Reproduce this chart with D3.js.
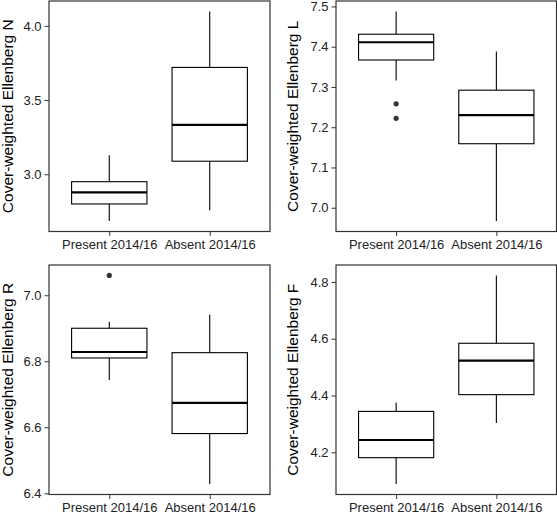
<!DOCTYPE html>
<html>
<head>
<meta charset="utf-8">
<script src="https://cdn.jsdelivr.net/npm/d3@7"></script>
<style>
  html, body { margin: 0; padding: 0; background: #fff; }
  svg { display: block; }
  text { font-family: "Liberation Sans", Arial, sans-serif; }
</style>
</head>
<body>
<svg id="chart" width="557" height="515"></svg>
<script>
// ---- data ----
const groups = ["Present 2014/16", "Absent 2014/16"];
const panelLetters = ["N", "L", "R", "F"];
// box stats per group: [lower whisker, Q1, median, Q3, upper whisker]
const statsN = [[2.685, 2.800, 2.878, 2.950, 3.128], [2.757, 3.088, 3.333, 3.720, 4.097]];
const statsL = [[7.316, 7.367, 7.411, 7.431, 7.4875], [6.967, 7.159, 7.230, 7.292, 7.388]];
const statsR = [[6.743, 6.810, 6.828, 6.900, 6.920], [6.428, 6.581, 6.674, 6.826, 6.942]];
const statsF = [[4.088, 4.181, 4.243, 4.344, 4.375], [4.303, 4.403, 4.523, 4.584, 4.823]];
// outliers per group
const outN = [[], []];
const outL = [[7.258, 7.222], []];
const outR = [[7.060], []];
const outF = [[], []];
// tick labels
const ticksN = [3.0, 3.5, 4.0];
const ticksL = [7.0, 7.1, 7.2, 7.3, 7.4, 7.5];
const ticksR = [6.4, 6.6, 6.8, 7.0];
const ticksF = [4.2, 4.4, 4.6, 4.8];

const panels = [
  { letter: panelLetters[0], stats: statsN, out: outN, ticks: ticksN, x0: 49, x1: 270, y0: 1, y1: 231.5, tx: 12.5 },
  { letter: panelLetters[1], stats: statsL, out: outL, ticks: ticksL, x0: 336, x1: 556.5, y0: 1, y1: 231.5, tx: 298 },
  { letter: panelLetters[2], stats: statsR, out: outR, ticks: ticksR, x0: 49, x1: 270, y0: 265, y1: 494.5, tx: 12.5 },
  { letter: panelLetters[3], stats: statsF, out: outF, ticks: ticksF, x0: 336, x1: 556.5, y0: 265, y1: 494.5, tx: 298 }
];

const svg = d3.select("#chart");

panels.forEach(p => {
  // domain: data range expanded 5% each side (ggplot default)
  const all = p.stats.flat().concat(p.out.flat());
  const mn = d3.min(all), mx = d3.max(all);
  const pad = (mx - mn) * 0.05;
  const y = d3.scaleLinear().domain([mn - pad, mx + pad]).range([p.y1, p.y0]);
  const x = d3.scalePoint().domain(groups).range([p.x0, p.x1]).padding(0.6);
  const bw = x.step() * 0.75;

  const g = svg.append("g");

  // y axis
  const yAxis = d3.axisLeft(y).tickValues(p.ticks).tickFormat(d3.format(".1f")).tickSize(4.5).tickPadding(3);
  const ya = g.append("g").attr("transform", `translate(${p.x0},0)`).call(yAxis);
  ya.select(".domain").remove();
  ya.selectAll("line").attr("stroke", "#333").attr("stroke-width", 1);
  ya.selectAll("text").attr("fill", "#222").style("font-size", "13px");

  // x axis
  const xAxis = d3.axisBottom(x).tickSize(4.5).tickPadding(4);
  const xa = g.append("g").attr("transform", `translate(0,${p.y1})`).call(xAxis);
  xa.select(".domain").remove();
  xa.selectAll("line").attr("stroke", "#333").attr("stroke-width", 1);
  xa.selectAll("text").attr("fill", "#222").style("font-size", "13px");

  // boxes
  groups.forEach((grp, i) => {
    const s = p.stats[i];
    const cx = x(grp);
    const bg = g.append("g");
    // whiskers
    bg.append("line").attr("x1", cx).attr("x2", cx).attr("y1", y(s[4])).attr("y2", y(s[3]))
      .attr("stroke", "#000").attr("stroke-width", 1.1);
    bg.append("line").attr("x1", cx).attr("x2", cx).attr("y1", y(s[1])).attr("y2", y(s[0]))
      .attr("stroke", "#000").attr("stroke-width", 1.1);
    // box
    bg.append("rect").attr("x", cx - bw / 2).attr("width", bw)
      .attr("y", y(s[3])).attr("height", y(s[1]) - y(s[3]))
      .attr("fill", "#fff").attr("stroke", "#000").attr("stroke-width", 1.1);
    // median
    bg.append("line").attr("x1", cx - bw / 2).attr("x2", cx + bw / 2)
      .attr("y1", y(s[2])).attr("y2", y(s[2]))
      .attr("stroke", "#000").attr("stroke-width", 2.1);
    // outliers
    bg.selectAll("circle").data(p.out[i]).join("circle")
      .attr("cx", cx).attr("cy", d => y(d)).attr("r", 2.6).attr("fill", "#333");
  });

  // panel border
  g.append("rect").attr("x", p.x0).attr("y", p.y0)
    .attr("width", p.x1 - p.x0).attr("height", p.y1 - p.y0)
    .attr("fill", "none").attr("stroke", "#333").attr("stroke-width", 1.2);

  // y title
  g.append("text")
    .attr("transform", `translate(${p.tx},${(p.y0 + p.y1) / 2}) rotate(-90)`)
    .attr("text-anchor", "middle")
    .attr("fill", "#000")
    .style("font-size", "15.5px")
    .text("Cover-weighted Ellenberg " + p.letter);
});
</script>
</body>
</html>
